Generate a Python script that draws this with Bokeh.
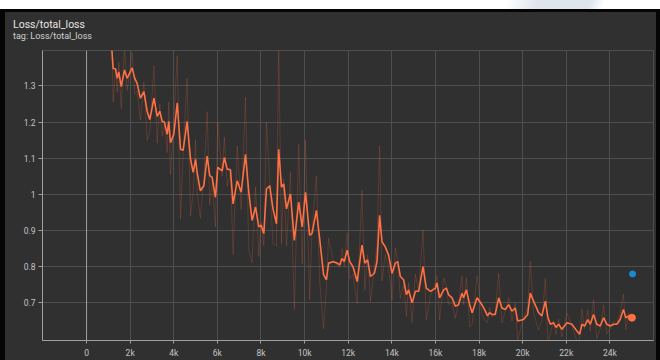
from bokeh.plotting import figure
from bokeh.models import Div, Span, FixedTicker, Range1d
from bokeh.layouts import column, row
from bokeh.embed import file_html
from bokeh.resources import INLINE

# Training steps and loss values
steps = [1150, 1220, 1330, 1410, 1480, 1590, 1740, 1860, 2090, 2210, 2320, 2470, 2630, 2780, 2900,
         3090, 3240, 3360, 3470, 3570, 3700, 3770, 3850, 4000, 4160, 4310, 4430, 4610, 4770, 4890,
         5000, 5070, 5220, 5380, 5530, 5650, 5760, 5910, 6020, 6220, 6320, 6450, 6600, 6720, 6910,
         7090, 7290, 7440, 7590, 7750, 7900, 8010, 8130, 8250, 8400, 8550, 8710, 8810, 8940, 9040,
         9170, 9350, 9530, 9730, 9890, 10040, 10230, 10340, 10540, 10690, 10870, 11000, 11100, 11300,
         11490, 11610, 11720, 11820, 11950, 12070, 12220, 12410, 12630, 12760, 12890, 13020, 13200,
         13320, 13440, 13550, 13700, 13850, 14010, 14160, 14270, 14390, 14540, 14670, 14770, 14930,
         15080, 15230, 15430, 15580, 15770, 16000, 16070, 16190, 16380, 16500, 16600, 16760, 16910,
         17060, 17220, 17290, 17420, 17570, 17680, 17910, 18130, 18290, 18390, 18480, 18590, 18740,
         18900, 19050, 19200, 19360, 19510, 19660, 19770, 20040, 20230, 20350, 20500, 20730, 20880,
         21040, 21160, 21270, 21420, 21530, 21650, 21800, 22030, 22260, 22490, 22610, 22720, 22840,
         22990, 23100, 23250, 23400, 23560, 23710, 23860, 24010, 24170, 24320, 24470, 24620, 24730,
         24860, 25010]

smoothed = [1.410, 1.348, 1.347, 1.321, 1.339, 1.298, 1.344, 1.321, 1.350, 1.321, 1.307, 1.266, 1.284,
            1.230, 1.207, 1.266, 1.216, 1.230, 1.202, 1.200, 1.166, 1.202, 1.143, 1.166, 1.253, 1.125,
            1.122, 1.202, 1.097, 1.061, 1.097, 1.061, 1.010, 1.024, 1.106, 1.052, 1.047, 0.992, 1.075,
            1.065, 1.102, 1.070, 1.068, 0.974, 1.038, 1.006, 1.111, 1.006, 0.928, 0.965, 0.910, 0.915,
            0.892, 1.015, 1.024, 0.960, 0.919, 1.125, 1.020, 1.029, 0.960, 1.001, 0.873, 0.979, 0.910,
            1.006, 0.887, 0.892, 0.956, 0.878, 0.778, 0.764, 0.810, 0.814, 0.810, 0.805, 0.823, 0.814,
            0.846, 0.814, 0.800, 0.759, 0.860, 0.810, 0.819, 0.773, 0.782, 0.814, 0.942, 0.869, 0.855,
            0.832, 0.782, 0.810, 0.814, 0.773, 0.764, 0.723, 0.736, 0.700, 0.732, 0.732, 0.800, 0.741,
            0.732, 0.741, 0.755, 0.714, 0.736, 0.741, 0.723, 0.714, 0.691, 0.695, 0.727, 0.714, 0.736,
            0.695, 0.673, 0.714, 0.695, 0.677, 0.664, 0.673, 0.668, 0.668, 0.714, 0.686, 0.682, 0.695,
            0.677, 0.686, 0.650, 0.654, 0.668, 0.727, 0.705, 0.673, 0.664, 0.705, 0.659, 0.641, 0.645,
            0.632, 0.641, 0.627, 0.645, 0.641, 0.622, 0.613, 0.641, 0.636, 0.654, 0.641, 0.668, 0.641,
            0.636, 0.659, 0.641, 0.636, 0.641, 0.641, 0.654, 0.682, 0.659, 0.664, 0.659]

raw = [1.450, 1.255, 1.346, 1.282, 1.366, 1.237, 1.413, 1.287, 1.394, 1.278, 1.286, 1.205, 1.311,
       1.149, 1.173, 1.355, 1.141, 1.251, 1.160, 1.197, 1.115, 1.256, 1.055, 1.201, 1.384, 0.933,
       1.118, 1.322, 0.940, 1.007, 1.151, 1.007, 0.934, 1.045, 1.229, 0.971, 1.040, 0.910, 1.200,
       1.050, 1.158, 1.022, 1.065, 0.833, 1.134, 0.958, 1.269, 0.848, 0.811, 1.021, 0.828, 0.923,
       0.858, 1.200, 1.038, 0.864, 0.858, 1.434, 0.863, 1.043, 0.857, 1.063, 0.681, 1.138, 0.807,
       1.150, 0.709, 0.900, 1.052, 0.761, 0.628, 0.743, 0.879, 0.820, 0.804, 0.798, 0.850, 0.801,
       0.894, 0.766, 0.779, 0.698, 1.012, 0.735, 0.833, 0.704, 0.796, 0.862, 1.134, 0.760, 0.834,
       0.798, 0.707, 0.852, 0.820, 0.712, 0.751, 0.662, 0.756, 0.646, 0.780, 0.732, 0.902, 0.653,
       0.719, 0.755, 0.776, 0.653, 0.769, 0.749, 0.696, 0.701, 0.657, 0.701, 0.775, 0.695, 0.769,
       0.634, 0.640, 0.776, 0.667, 0.650, 0.645, 0.687, 0.661, 0.668, 0.783, 0.644, 0.676, 0.715,
       0.650, 0.700, 0.596, 0.660, 0.689, 0.816, 0.672, 0.625, 0.651, 0.767, 0.590, 0.614, 0.651,
       0.613, 0.655, 0.606, 0.672, 0.635, 0.594, 0.600, 0.683, 0.629, 0.681, 0.622, 0.709, 0.601,
       0.629, 0.694, 0.614, 0.629, 0.649, 0.641, 0.674, 0.724, 0.625, 0.672, 0.652]

# Second run: a single logged point
other_step = [25040]
other_value = [0.780]

x_ticks = [0, 2000, 4000, 6000, 8000, 10000, 12000, 14000, 16000, 18000, 20000, 22000, 24000]
x_tick_labels = ["0", "2k", "4k", "6k", "8k", "10k", "12k", "14k", "16k", "18k", "20k", "22k", "24k"]
y_ticks = [0.7, 0.8, 0.9, 1.0, 1.1, 1.2, 1.3]
y_tick_labels = ["0.7", "0.8", "0.9", "1", "1.1", "1.2", "1.3"]

BG = "#303030"
GRID = "#4e4e4e"
AXIS = "#a0a0a0"
LABEL = "#c4c4c4"
ORANGE = "#ff7043"
BLUE = "#1b8ad6"
EDGE = "#050505"
FONT = "Roboto"

p = figure(width=651, height=318,
           x_range=Range1d(-2020, 26000), y_range=Range1d(0.596, 1.398),
           output_backend="svg", toolbar_location=None,
           min_border_left=37, min_border_right=3, min_border_top=8, min_border_bottom=17,
           background_fill_color=BG, border_fill_color=BG,
           outline_line_color=GRID)

p.xaxis.ticker = FixedTicker(ticks=x_ticks)
p.xaxis.major_label_overrides = dict(zip(x_ticks, x_tick_labels))
p.yaxis.ticker = FixedTicker(ticks=y_ticks)
p.yaxis.major_label_overrides = dict(zip(y_ticks, y_tick_labels))

for ax in (p.xaxis, p.yaxis):
    ax.axis_line_color = AXIS
    ax.major_tick_line_color = AXIS
    ax.minor_tick_line_color = None
    ax.major_tick_in = 0
    ax.major_label_text_color = LABEL
    ax.major_label_text_font = FONT
    ax.major_label_text_font_size = "8.5px"
p.xaxis.major_tick_out = 3
p.xaxis.major_label_standoff = 4
p.yaxis.major_tick_out = 4
p.yaxis.major_label_standoff = 3

p.grid.grid_line_color = GRID
p.grid.grid_line_width = 1

# zero line
p.add_layout(Span(location=0, dimension="height", line_color=AXIS, line_width=1))

p.line(steps, raw, line_color=ORANGE, line_alpha=0.2, line_width=1)
p.line(steps, smoothed, line_color=ORANGE, line_width=1.6)
p.scatter([steps[-1]], [smoothed[-1]], size=7, fill_color=ORANGE, line_color=ORANGE)
p.scatter(other_step, other_value, size=6, fill_color=BLUE, line_color=BLUE)

title = Div(
    text=(f'<div style="font-family:{FONT};font-size:10.5px;line-height:13px;color:#e6e6e6;'
          'padding:6px 0 0 8px;">Loss/total_loss</div>'
          f'<div style="font-family:{FONT};font-size:9px;line-height:11px;color:#d0d0d0;'
          'padding:0 0 0 8px;">tag: Loss/total_loss</div>'),
    width=651, height=30, margin=0,
    styles={"background-color": BG})

top_strip = Div(text="", width=660, height=9, margin=0,
                styles={"background": "linear-gradient(112deg, #ffffff 0px, #ffffff 470px, "
                                      "#dfe5ec 500px, #dfe5ec 548px, #ffffff 562px)"})
top_edge = Div(text="", width=660, height=3, margin=0, styles={"background-color": EDGE})
left_edge = Div(text="", width=5, height=348, margin=0, styles={"background-color": EDGE})
right_edge = Div(text="", width=4, height=348, margin=0, styles={"background-color": EDGE})

panel = column(title, p, spacing=0, styles={"background-color": BG})
body = row(left_edge, panel, right_edge, spacing=0, styles={"background-color": EDGE})
page = column(top_strip, top_edge, body, spacing=0)

open("out.html", "w").write(file_html(page, INLINE))
